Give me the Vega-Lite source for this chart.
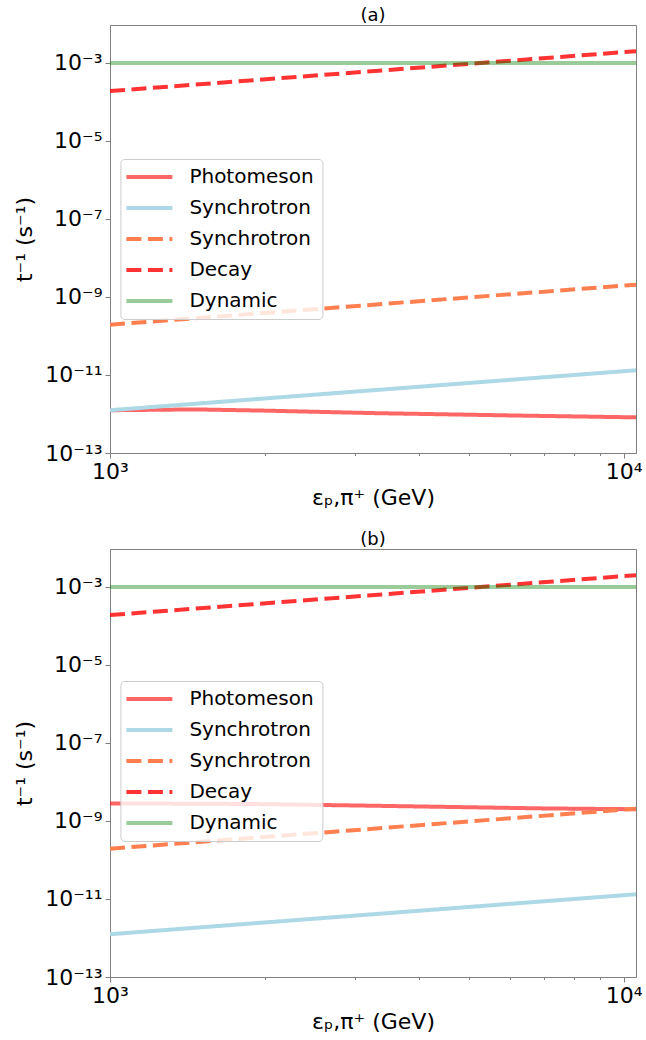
{
  "$schema": "https://vega.github.io/schema/vega-lite/v6.json",
  "padding": {"left": 13, "top": 6, "right": 0, "bottom": 2},
  "data": {"values": [
    {"panel": "a", "series": "Photomeson", "E": 1000, "rate": 1.25e-12},
    {"panel": "a", "series": "Photomeson", "E": 1470, "rate": 1.31e-12},
    {"panel": "a", "series": "Photomeson", "E": 2000, "rate": 1.22e-12},
    {"panel": "a", "series": "Photomeson", "E": 3300, "rate": 1.05e-12},
    {"panel": "a", "series": "Photomeson", "E": 6300, "rate": 9.1e-13},
    {"panel": "a", "series": "Photomeson", "E": 10570, "rate": 8.2e-13},
    {"panel": "a", "series": "Synchrotron p", "E": 1000, "rate": 1.25e-12},
    {"panel": "a", "series": "Synchrotron p", "E": 10570, "rate": 1.32e-11},
    {"panel": "a", "series": "Synchrotron π", "E": 1000, "rate": 1.95e-10},
    {"panel": "a", "series": "Synchrotron π", "E": 10570, "rate": 2.06e-9},
    {"panel": "a", "series": "Decay", "E": 1000, "rate": 1.9e-4},
    {"panel": "a", "series": "Decay", "E": 10570, "rate": 2.0e-3},
    {"panel": "a", "series": "Dynamic", "E": 1000, "rate": 1e-3},
    {"panel": "a", "series": "Dynamic", "E": 10570, "rate": 1e-3},
    {"panel": "b", "series": "Photomeson", "E": 1000, "rate": 2.8e-9},
    {"panel": "b", "series": "Photomeson", "E": 1500, "rate": 2.78e-9},
    {"panel": "b", "series": "Photomeson", "E": 2000, "rate": 2.7e-9},
    {"panel": "b", "series": "Photomeson", "E": 3000, "rate": 2.5e-9},
    {"panel": "b", "series": "Photomeson", "E": 5000, "rate": 2.25e-9},
    {"panel": "b", "series": "Photomeson", "E": 7000, "rate": 2.1e-9},
    {"panel": "b", "series": "Photomeson", "E": 10570, "rate": 2.0e-9},
    {"panel": "b", "series": "Synchrotron p", "E": 1000, "rate": 1.25e-12},
    {"panel": "b", "series": "Synchrotron p", "E": 10570, "rate": 1.32e-11},
    {"panel": "b", "series": "Synchrotron π", "E": 1000, "rate": 1.95e-10},
    {"panel": "b", "series": "Synchrotron π", "E": 10570, "rate": 2.06e-9},
    {"panel": "b", "series": "Decay", "E": 1000, "rate": 1.9e-4},
    {"panel": "b", "series": "Decay", "E": 10570, "rate": 2.0e-3},
    {"panel": "b", "series": "Dynamic", "E": 1000, "rate": 1e-3},
    {"panel": "b", "series": "Dynamic", "E": 10570, "rate": 1e-3}
  ]},
  "spacing": 21,
  "vconcat": [
    {
      "title": {"text": "(a)", "fontSize": 18, "fontWeight": "normal", "offset": 0.5, "frame": "group"},
      "width": 526,
      "height": 428,
      "transform": [{"filter": "datum.panel == 'a'"}],
      "mark": {"type": "line", "strokeWidth": 4, "clip": true},
      "encoding": {
        "x": {"field": "E", "type": "quantitative", "scale": {"type": "log", "domain": [1000, 10570], "nice": false},
          "axis": {"values": [1000, 2000, 3000, 4000, 5000, 6000, 7000, 8000, 9000, 10000],
            "labelExpr": "datum.value == 1000 ? '10³' : (datum.value == 10000 ? '10⁴' : '')",
            "tickSize": {"condition": {"test": "datum.value == 1000 || datum.value == 10000", "value": 5}, "value": 2.5},
            "title": "εₚ,π⁺ (GeV)"}},
        "y": {"field": "rate", "type": "quantitative", "scale": {"type": "log", "domain": [1e-13, 0.0094], "nice": false},
          "axis": {"values": [1e-13, 1e-11, 1e-9, 1e-7, 1e-5, 1e-3],
            "labelExpr": "datum.value < 1e-12 ? '10⁻¹³' : datum.value < 1e-10 ? '10⁻¹¹' : datum.value < 1e-8 ? '10⁻⁹' : datum.value < 1e-6 ? '10⁻⁷' : datum.value < 1e-4 ? '10⁻⁵' : '10⁻³'",
            "tickSize": 5,
            "title": "t⁻¹ (s⁻¹)"}},
        "color": {"field": "series", "type": "nominal",
          "scale": {"domain": ["Photomeson", "Synchrotron p", "Synchrotron π", "Decay", "Dynamic"], "range": ["rgba(255,0,0,0.6)", "lightblue", "coral", "rgba(255,0,0,0.8)", "rgba(0,128,0,0.4)"]},
          "legend": {"orient": "none", "legendX": 10.4, "legendY": 134, "title": null,
            "labelExpr": "datum.label == 'Synchrotron p' || datum.label == 'Synchrotron π' ? 'Synchrotron' : datum.label"}},
        "strokeDash": {"field": "series", "type": "nominal",
          "scale": {"domain": ["Photomeson", "Synchrotron p", "Synchrotron π", "Decay", "Dynamic"], "range": [[1, 0], [1, 0], [15, 6.5], [15, 6.5], [1, 0]]},
          "legend": {"orient": "none", "legendX": 10.4, "legendY": 134, "title": null,
            "labelExpr": "datum.label == 'Synchrotron p' || datum.label == 'Synchrotron π' ? 'Synchrotron' : datum.label"}}
      }
    },
    {
      "title": {"text": "(b)", "fontSize": 18, "fontWeight": "normal", "offset": 0.5, "frame": "group"},
      "width": 526,
      "height": 428,
      "transform": [{"filter": "datum.panel == 'b'"}],
      "mark": {"type": "line", "strokeWidth": 4, "clip": true},
      "encoding": {
        "x": {"field": "E", "type": "quantitative", "scale": {"type": "log", "domain": [1000, 10570], "nice": false},
          "axis": {"values": [1000, 2000, 3000, 4000, 5000, 6000, 7000, 8000, 9000, 10000],
            "labelExpr": "datum.value == 1000 ? '10³' : (datum.value == 10000 ? '10⁴' : '')",
            "tickSize": {"condition": {"test": "datum.value == 1000 || datum.value == 10000", "value": 5}, "value": 2.5},
            "title": "εₚ,π⁺ (GeV)"}},
        "y": {"field": "rate", "type": "quantitative", "scale": {"type": "log", "domain": [1e-13, 0.0094], "nice": false},
          "axis": {"values": [1e-13, 1e-11, 1e-9, 1e-7, 1e-5, 1e-3],
            "labelExpr": "datum.value < 1e-12 ? '10⁻¹³' : datum.value < 1e-10 ? '10⁻¹¹' : datum.value < 1e-8 ? '10⁻⁹' : datum.value < 1e-6 ? '10⁻⁷' : datum.value < 1e-4 ? '10⁻⁵' : '10⁻³'",
            "tickSize": 5,
            "title": "t⁻¹ (s⁻¹)"}},
        "color": {"field": "series", "type": "nominal",
          "scale": {"domain": ["Photomeson", "Synchrotron p", "Synchrotron π", "Decay", "Dynamic"], "range": ["rgba(255,0,0,0.6)", "lightblue", "coral", "rgba(255,0,0,0.8)", "rgba(0,128,0,0.4)"]},
          "legend": {"orient": "none", "legendX": 10.4, "legendY": 132, "title": null,
            "labelExpr": "datum.label == 'Synchrotron p' || datum.label == 'Synchrotron π' ? 'Synchrotron' : datum.label"}},
        "strokeDash": {"field": "series", "type": "nominal",
          "scale": {"domain": ["Photomeson", "Synchrotron p", "Synchrotron π", "Decay", "Dynamic"], "range": [[1, 0], [1, 0], [15, 6.5], [15, 6.5], [1, 0]]},
          "legend": {"orient": "none", "legendX": 10.4, "legendY": 132, "title": null,
            "labelExpr": "datum.label == 'Synchrotron p' || datum.label == 'Synchrotron π' ? 'Synchrotron' : datum.label"}}
      }
    }
  ],
  "resolve": {"scale": {"color": "independent", "strokeDash": "independent"}},
  "config": {
    "font": "DejaVu Sans",
    "view": {"stroke": "#808080", "strokeWidth": 1},
    "axis": {
      "grid": false,
      "domainColor": "#808080",
      "tickColor": "#808080",
      "labelColor": "black",
      "labelFontSize": 22,
      "labelPadding": 3,
      "labelOverlap": false,
      "labelFlush": false,
      "titleFontSize": 22,
      "titleFontWeight": "normal",
      "titleColor": "black"
    },
    "axisY": {"titlePadding": 8},
    "axisX": {"titlePadding": 5},
    "legend": {
      "symbolType": "M-1.5,0H4.25",
      "symbolSize": 256,
      "symbolStrokeWidth": 4,
      "labelFontSize": 20,
      "labelColor": "black",
      "labelOffset": 41,
      "rowPadding": 11,
      "padding": 8,
      "fillColor": "rgba(255,255,255,0.8)",
      "strokeColor": "#cccccc",
      "cornerRadius": 4
    }
  }
}
